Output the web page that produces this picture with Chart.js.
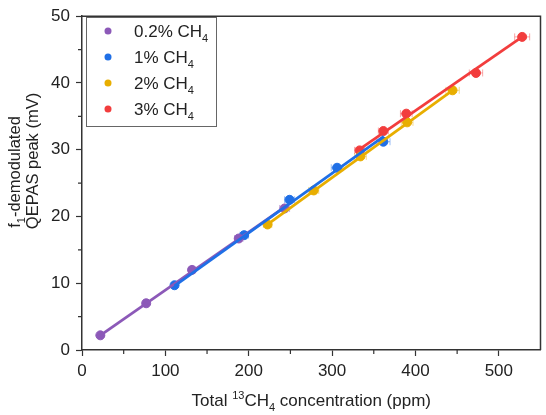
<!DOCTYPE html>
<html>
<head>
<meta charset="utf-8">
<script src="https://cdn.jsdelivr.net/npm/chart.js@4.4.1/dist/chart.umd.min.js"></script>
<style>
  html, body { margin: 0; padding: 0; background: #fff; }
  #wrap { width: 546px; height: 415px; }
</style>
</head>
<body>
<div id="wrap"><canvas id="chart" width="546" height="415"></canvas></div>
<script>
// values
const seriesNames = ['0.2%', '1%', '2%', '3%'];

const purpleX = [22, 77, 132, 188, 243];
const purpleY = [2.2, 7.0, 12.0, 16.7, 21.2];
const purpleErr = [2, 3, 4, 5, 6];

const blueX = [111, 194.5, 249, 306, 361.5];
const blueY = [9.7, 17.2, 22.5, 27.3, 31.2];
const blueErr = [3, 5, 6, 7, 8];

const yellowX = [222.6, 278, 334, 390, 444.5];
const yellowY = [18.8, 23.9, 29.0, 34.1, 38.9];
const yellowErr = [5, 6, 7, 7, 8];

const redX = [333, 361.5, 389, 472.6, 528];
const redY = [29.9, 32.8, 35.4, 41.5, 46.9];
const redErr = [6, 6, 7, 8, 9];

// fitted lines (end points)
const purpleFitX = [22, 243], purpleFitY = [2.2, 21.4];
const blueFitX = [111, 362], blueFitY = [9.6, 32.0];
const yellowFitX = [222.6, 444.5], yellowFitY = [18.8, 38.9];
const redFitX = [331, 528], redFitY = [29.9, 46.9];

const xTickLabels = [0, 100, 200, 300, 400, 500];
const yTickLabels = [0, 10, 20, 30, 40, 50];

const colors = ['#8c59b8', '#1f6fe6', '#e8ae00', '#f23d3d'];
const errColors = ['rgba(140,89,184,0.45)', 'rgba(31,111,230,0.45)', 'rgba(232,174,0,0.45)', 'rgba(242,61,61,0.45)'];
// lower = drawn on top: red over blue over yellow over purple
const fitOrder = [1.3, 1.1, 1.2, 1.0];

const FONT = '"Liberation Sans", Arial, sans-serif';

const pts = (xs, ys) => xs.map((x, i) => ({ x, y: ys[i] }));

// fit lines sit on top of the markers, as in the figure
const fitSets = [
  [purpleFitX, purpleFitY], [blueFitX, blueFitY], [yellowFitX, yellowFitY], [redFitX, redFitY]
].map((f, i) => ({
  type: 'line', data: pts(f[0], f[1]), borderColor: colors[i], borderWidth: 2.8,
  pointRadius: 0, fill: false, showLine: true, order: fitOrder[i]
}));

const pointSets = [
  [purpleX, purpleY, purpleErr], [blueX, blueY, blueErr], [yellowX, yellowY, yellowErr], [redX, redY, redErr]
].map((s, i) => ({
  type: 'scatter', label: seriesNames[i] + ' CH4', data: pts(s[0], s[1]), xErr: s[2], errColor: errColors[i],
  backgroundColor: colors[i], borderColor: colors[i], pointRadius: 4.5, pointHoverRadius: 4.5, order: 2
}));

// draws text made of pieces: {t, sub, sup}
function richText(ctx, parts, x, y, size, align) {
  const small = Math.round(size * 0.65);
  const widths = parts.map(p => {
    ctx.font = (p.sub || p.sup ? small : size) + 'px ' + FONT;
    return ctx.measureText(p.t).width;
  });
  const total = widths.reduce((a, b) => a + b, 0);
  let cx = align === 'center' ? x - total / 2 : x;
  ctx.textAlign = 'left';
  ctx.textBaseline = 'alphabetic';
  parts.forEach((p, i) => {
    ctx.font = (p.sub || p.sup ? small : size) + 'px ' + FONT;
    const dy = p.sub ? size * 0.28 : (p.sup ? -size * 0.42 : 0);
    ctx.fillText(p.t, cx, y + dy);
    cx += widths[i];
  });
}

const decor = {
  id: 'decor',
  beforeDatasetsDraw(chart) {
    const { ctx, scales: { x, y } } = chart;
    ctx.save();
    ctx.lineWidth = 1;
    chart.data.datasets.forEach(ds => {
      if (!ds.xErr) return;
      ctx.strokeStyle = ds.errColor;
      ds.data.forEach((p, i) => {
        const e = ds.xErr[i];
        const x1 = x.getPixelForValue(p.x - e), x2 = x.getPixelForValue(p.x + e);
        const py = y.getPixelForValue(p.y);
        ctx.beginPath();
        ctx.moveTo(x1, py); ctx.lineTo(x2, py);
        ctx.moveTo(x1, py - 3.5); ctx.lineTo(x1, py + 3.5);
        ctx.moveTo(x2, py - 3.5); ctx.lineTo(x2, py + 3.5);
        ctx.stroke();
      });
    });
    ctx.restore();
  },
  afterDraw(chart) {
    const { ctx, chartArea: a, scales: { x, y } } = chart;
    ctx.save();
    // frame top / right
    ctx.strokeStyle = '#333';
    ctx.lineWidth = 1.5;
    ctx.beginPath();
    ctx.moveTo(a.left, a.top); ctx.lineTo(a.right, a.top); ctx.lineTo(a.right, a.bottom);
    ctx.stroke();
    // minor ticks
    ctx.lineWidth = 1.2;
    ctx.beginPath();
    for (let v = 50; v < 550; v += 100) {
      const px = x.getPixelForValue(v);
      ctx.moveTo(px, a.bottom); ctx.lineTo(px, a.bottom + 4);
    }
    for (let v = 5; v < 50; v += 10) {
      const py = y.getPixelForValue(v);
      ctx.moveTo(a.left, py); ctx.lineTo(a.left - 4, py);
    }
    ctx.stroke();

    // axis titles
    ctx.fillStyle = '#222';
    richText(ctx, [{ t: 'Total ' }, { t: '13', sup: true }, { t: 'CH' }, { t: '4', sub: true }, { t: ' concentration (ppm)' }],
      (a.left + a.right) / 2, 406, 17, 'center');
    ctx.save();
    ctx.translate(20, 172);
    ctx.rotate(-Math.PI / 2);
    richText(ctx, [{ t: 'f' }, { t: '1', sub: true }, { t: '-demodulated' }], 0, 0, 16.5, 'center');
    ctx.restore();
    ctx.save();
    ctx.translate(38, 161);
    ctx.rotate(-Math.PI / 2);
    richText(ctx, [{ t: 'QEPAS peak (mV)' }], 0, 0, 16.5, 'center');
    ctx.restore();

    // legend
    ctx.fillStyle = '#fff';
    ctx.fillRect(86, 17, 130, 109);
    ctx.strokeStyle = '#666';
    ctx.lineWidth = 1;
    ctx.strokeRect(86.5, 17.5, 130, 109);
    const rows = [31, 57, 83, 109];
    seriesNames.forEach((n, i) => {
      ctx.fillStyle = colors[i];
      ctx.beginPath();
      ctx.arc(108, rows[i], 3.5, 0, Math.PI * 2);
      ctx.fill();
      ctx.fillStyle = '#222';
      richText(ctx, [{ t: n + ' CH' }, { t: '4', sub: true }], 134, rows[i] + 6, 17, 'left');
    });
    ctx.restore();
  }
};

new Chart(document.getElementById('chart'), {
  type: 'scatter',
  data: { datasets: [...fitSets, ...pointSets] },
  options: {
    responsive: false,
    animation: false,
    layout: { padding: { top: 11, right: 2, left: 0, bottom: 0 } },
    plugins: { legend: { display: false }, tooltip: { enabled: false } },
    scales: {
      x: {
        type: 'linear', min: 0, max: 550,
        afterFit: s => { s.height = 65; },
        afterBuildTicks: s => { s.ticks = xTickLabels.map(v => ({ value: v })); },
        ticks: { autoSkip: false, maxRotation: 0, color: '#222', padding: 5, font: { family: FONT, size: 17 } },
        grid: { drawOnChartArea: false, drawTicks: true, tickLength: 6, color: '#333', tickWidth: 1.2 },
        border: { color: '#333', width: 1.5 }
      },
      y: {
        type: 'linear', min: 0, max: 50,
        afterFit: s => { s.width = 82; },
        afterBuildTicks: s => { s.ticks = yTickLabels.map(v => ({ value: v })); },
        ticks: { autoSkip: false, color: '#222', padding: 6, font: { family: FONT, size: 17 } },
        grid: { drawOnChartArea: false, drawTicks: true, tickLength: 6, color: '#333', tickWidth: 1.2 },
        border: { color: '#333', width: 1.5 }
      }
    }
  },
  plugins: [decor]
});
</script>
</body>
</html>
